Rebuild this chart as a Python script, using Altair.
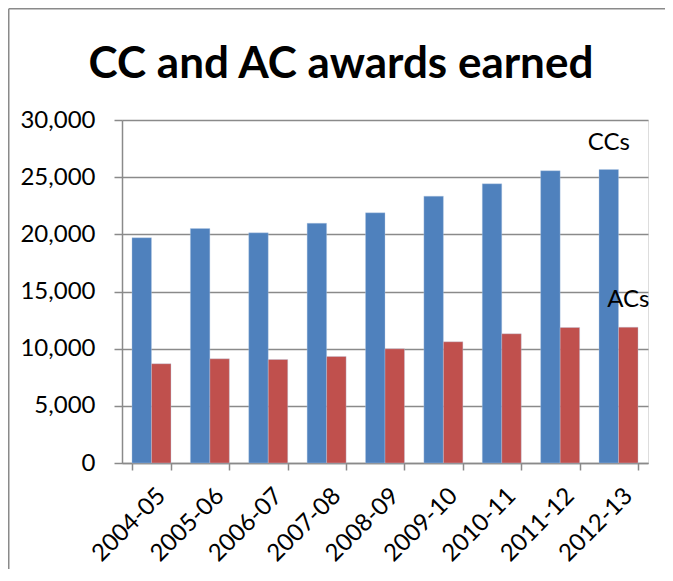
import altair as alt
import pandas as pd

years = ["2004-05", "2005-06", "2006-07", "2007-08", "2008-09",
         "2009-10", "2010-11", "2011-12", "2012-13"]
ccs = [19700, 20510, 20130, 20970, 21880, 23340, 24420, 25560, 25670]
acs = [8680, 9110, 9050, 9320, 9990, 10600, 11300, 11850, 11880]
series = ["CCs", "ACs"]
colors = ["#4F81BD", "#C0504D"]

# label annotations (text, category, series, value position)
ann_text = ["CCs", "ACs"]
ann_year = ["2012-13", "2012-13"]
ann_series = ["CCs", "ACs"]
ann_value = [28000, 14250]

rows = []
for y, c, a in zip(years, ccs, acs):
    rows.append({"year": y, "series": "CCs", "value": c})
    rows.append({"year": y, "series": "ACs", "value": a})
df = pd.DataFrame(rows)
ann = pd.DataFrame({"text": ann_text, "year": ann_year,
                    "series": ann_series, "value": ann_value})

FONT = "Lato"
GRAY = "#8A8A8A"
FS = 24
W, H = 526, 343
PAD = {"left": 114, "top": 112, "right": 17, "bottom": 106}

x_enc = alt.X("year:N", sort=years, title=None,
              scale=alt.Scale(paddingInner=0.332, paddingOuter=0.171),
              axis=alt.Axis(tickBand="extent", tickSize=7, tickColor=GRAY,
                            tickWidth=1.5, domainColor=GRAY, domainWidth=1.5,
                            labelAngle=315, labelAlign="right",
                            labelBaseline="middle", labelPadding=22,
                            labelOffset=10,
                            labelFontSize=FS, labelFont=FONT,
                            labelColor="#000000", grid=False))
xo_enc = alt.XOffset("series:N", sort=series,
                     scale=alt.Scale(paddingInner=0, paddingOuter=0))
y_enc = alt.Y("value:Q", title=None,
              scale=alt.Scale(domain=[0, 30000], nice=False),
              axis=alt.Axis(values=[0, 5000, 10000, 15000, 20000, 25000, 30000],
                            format=",d", tickSize=8, tickColor=GRAY,
                            tickWidth=1.5, domainColor=GRAY, domainWidth=1.5,
                            gridColor=GRAY, gridWidth=1.5,
                            labelPadding=19, labelFontSize=FS, labelFont=FONT,
                            labelColor="#000000"))

bars = alt.Chart(df).mark_bar(stroke="#B9CDE5", strokeWidth=0.6, strokeOpacity=0.6).encode(
    x=x_enc, xOffset=xo_enc, y=y_enc,
    color=alt.Color("series:N", sort=series,
                    scale=alt.Scale(domain=series, range=colors), legend=None),
)

labels = alt.Chart(ann).mark_text(font=FONT, fontSize=FS, color="#000000",
                                  align="center", baseline="middle").encode(
    x=x_enc, xOffset=xo_enc, y=y_enc,
    text="text:N",
)

# chart frame (top and left edges, as in the reference)
frame_df = pd.DataFrame({"k": [0]})
frame_top = alt.Chart(frame_df).mark_rule(color=GRAY, strokeWidth=1.5).encode(
    x=alt.value(-PAD["left"] + 0.75), x2=alt.value(W + PAD["right"]),
    y=alt.value(-PAD["top"] + 0.75))
frame_left = alt.Chart(frame_df).mark_rule(color=GRAY, strokeWidth=1.5).encode(
    x=alt.value(-PAD["left"] + 0.75),
    y=alt.value(-PAD["top"] + 0.75), y2=alt.value(H + PAD["bottom"]))

chart = alt.layer(bars, labels, frame_top, frame_left).properties(
    width=W, height=H,
    autosize=alt.AutoSizeParams(type="none"),
    padding=PAD,
    title=alt.TitleParams("CC and AC awards earned", font=FONT, fontSize=44,
                          fontWeight="bold", color="#000000", anchor="middle",
                          dx=-44, offset=-114, baseline="alphabetic"),
).configure_view(stroke=None).configure(background="white")

chart.save("out.html", embed_options={"renderer": "svg", "actions": False})
